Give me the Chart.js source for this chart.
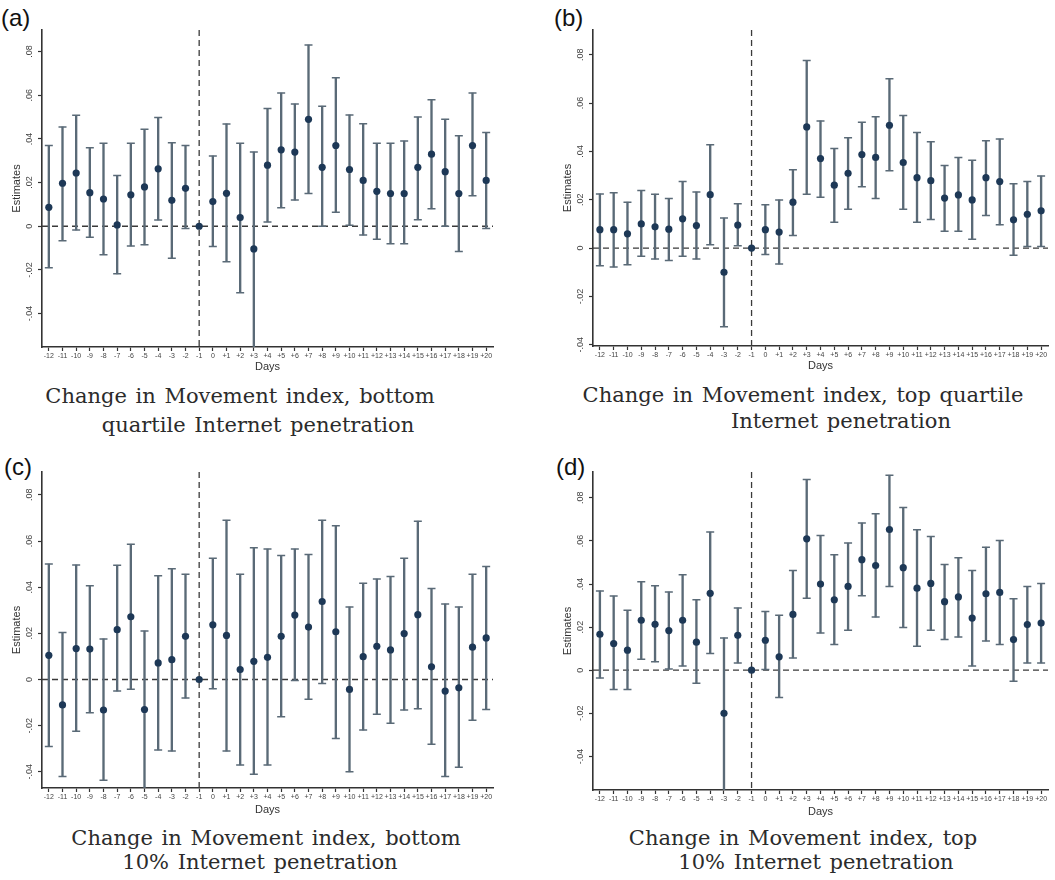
<!DOCTYPE html>
<html>
<head>
<meta charset="utf-8">
<script src="https://cdn.jsdelivr.net/npm/chart.js@4.4.0/dist/chart.umd.min.js"></script>
<style>
  body { margin: 0; background: #fff; width: 1055px; height: 880px; position: relative; overflow: hidden; font-family: "Liberation Sans", Arial, sans-serif; }
  .panel { position: absolute; }
  .tag { position: absolute; font-size: 24px; line-height: 24px; color: #111; }
  .cap { position: absolute; font-family: "DejaVu Serif", serif; font-size: 21px; line-height: 22px; word-spacing: 2px; color: #2b2b2b; white-space: nowrap; transform: translateX(-50%); }
</style>
</head>
<body>

<div class="tag" style="left:1px;top:6px">(a)</div>
<div class="tag" style="left:554px;top:6px">(b)</div>
<div class="tag" style="left:4px;top:455px">(c)</div>
<div class="tag" style="left:556px;top:455px">(d)</div>

<div class="panel" style="left:0;top:0;width:500px;height:380px"><canvas id="chartA"></canvas></div>
<div class="panel" style="left:551px;top:0;width:504px;height:380px"><canvas id="chartB"></canvas></div>
<div class="panel" style="left:0;top:442px;width:500px;height:380px"><canvas id="chartC"></canvas></div>
<div class="panel" style="left:551px;top:442px;width:504px;height:380px"><canvas id="chartD"></canvas></div>

<div class="cap" style="left:240px;top:385px">Change in Movement index, bottom</div>
<div class="cap" style="left:258px;top:414px">quartile Internet penetration</div>
<div class="cap" style="left:803px;top:384px">Change in Movement index, top quartile</div>
<div class="cap" style="left:841px;top:410px">Internet penetration</div>
<div class="cap" style="left:266px;top:827px">Change in Movement index, bottom</div>
<div class="cap" style="left:260px;top:851px">10% Internet penetration</div>
<div class="cap" style="left:803px;top:827px">Change in Movement index, top</div>
<div class="cap" style="left:816px;top:851px">10% Internet penetration</div>

<script>
const days = ["-12","-11","-10","-9","-8","-7","-6","-5","-4","-3","-2","-1","0",
  "+1","+2","+3","+4","+5","+6","+7","+8","+9","+10","+11","+12","+13","+14","+15","+16","+17","+18","+19","+20"];
const yTicks = [-0.04, -0.02, 0, 0.02, 0.04, 0.06, 0.08];
const yTickLabels = ["-.04", "-.02", "0", ".02", ".04", ".06", ".08"];

// (a) bottom quartile
const estA = [.0087,.0197,.0244,.0154,.0125,.0006,.0144,.018,.0263,.0119,.0174,0,.0113,.0151,.004,-.0104,.028,.035,.034,.049,.027,.037,.026,.021,.016,.015,.015,.027,.033,.025,.015,.037,.021];
const hiA = [.037,.0455,.0508,.036,.038,.0232,.038,.0444,.0498,.0383,.037,null,.0322,.0469,.038,.034,.054,.061,.056,.083,.055,.068,.051,.047,.038,.038,.039,.050,.058,.049,.0415,.061,.043];
const loA = [-.019,-.0066,-.0017,-.005,-.013,-.0218,-.009,-.0085,.0029,-.0147,-.001,null,-.0093,-.0162,-.0304,-.07,.002,.0085,.012,.015,0,.0064,.0005,-.004,-.006,-.008,-.008,.003,.008,0,-.0115,.014,-.001];

// (b) top quartile
const estB = [.0076,.0076,.0059,.010,.0088,.0078,.0121,.0093,.0221,-.010,.0095,0,.0076,.0066,.019,.0501,.037,.026,.0309,.0387,.0375,.0508,.0354,.0291,.0279,.0207,.022,.0199,.0291,.0275,.0117,.014,.0154];
const hiB = [.0224,.0229,.019,.0238,.0223,.0205,.0275,.0232,.0427,.0124,.0183,null,.0179,.0199,.0324,.0776,.0526,.0412,.0456,.052,.0543,.070,.0548,.0478,.044,.0342,.0375,.0363,.0444,.0451,.0266,.0275,.0298];
const loB = [-.0073,-.0078,-.0069,-.0034,-.0045,-.0051,-.0034,-.0045,.0014,-.0325,.001,null,-.0027,-.0066,.0052,.0223,.021,.0107,.0161,.0254,.0205,.032,.0161,.0107,.0118,.007,.007,.0037,.0135,.0096,-.003,.0007,.0007];

// (c) bottom 10%
const estC = [.0105,-.011,.0134,.0132,-.0132,.0216,.0272,-.013,.0072,.0086,.0187,0,.0237,.0191,.0043,.0079,.0096,.0187,.0279,.0227,.0338,.0207,-.0043,.0099,.0144,.0128,.0199,.0281,.0055,-.005,-.0036,.014,.018];
const hiC = [.050,.0204,.0496,.0406,.0176,.0495,.0586,.021,.0449,.048,.0456,null,.0525,.069,.0456,.0571,.0565,.0537,.0565,.0542,.069,.0666,.0314,.0417,.0435,.0446,.0525,.0686,.0394,.0327,.0314,.0456,.049];
const loC = [-.029,-.042,-.0224,-.0144,-.0436,-.005,-.0042,-.055,-.0305,-.031,-.008,null,-.004,-.031,-.037,-.041,-.037,-.0161,-.0004,-.0086,-.0017,-.0256,-.040,-.0219,-.0151,-.019,-.0132,-.0127,-.028,-.042,-.038,-.0177,-.013];

// (d) top 10%
const estD = [.0167,.0124,.0093,.0232,.0213,.0184,.0232,.013,.0357,-.020,.0162,0,.0139,.0062,.0259,.061,.04,.0327,.0389,.0513,.0486,.0653,.0476,.0381,.0403,.0318,.034,.0242,.0355,.0361,.0142,.0212,.0219];
const hiD = [.0368,.0344,.0278,.0411,.0392,.0363,.0443,.0327,.0641,.015,.0289,null,.0272,.0255,.0463,.0885,.0625,.0536,.059,.0683,.0726,.0905,.0755,.0652,.0621,.0491,.0522,.0463,.0571,.0602,.0332,.0389,.0402];
const loD = [-.0036,-.009,-.009,.0051,.0039,.0006,.002,-.006,.0077,-.065,.0034,null,.0003,-.0127,.0057,.0334,.0173,.0119,.0185,.0346,.0247,.0389,.0198,.0111,.0185,.0142,.0154,.002,.0136,.0119,-.0051,.0034,.0034];

const barColor = "#5a6a77";
const dotColor = "#1d3856";
const axisColor = "#333";
const sans = "'Liberation Sans', Arial, sans-serif";

// dashed reference lines at 0 and at day -1
const refLines = {
  id: "refLines",
  beforeDatasetsDraw(chart) {
    const { ctx, chartArea, scales } = chart;
    const y0 = scales.y.getPixelForValue(0);
    const xr = scales.x.getPixelForValue(days.indexOf("-1"));
    ctx.save();
    ctx.strokeStyle = "#3a3a3a";
    ctx.lineWidth = 1.3;
    ctx.setLineDash([6, 4]);
    ctx.beginPath();
    ctx.moveTo(chartArea.left, y0);
    ctx.lineTo(chartArea.right, y0);
    ctx.stroke();
    ctx.beginPath();
    ctx.moveTo(xr, chartArea.top);
    ctx.lineTo(xr, chartArea.bottom);
    ctx.stroke();
    ctx.restore();
  }
};

function drawPanel(id, est, lo, hi, yMin, yMax, xAxisHeight, daysPad, padRight) {
  const ctx = document.getElementById(id).getContext("2d");
  const ranges = lo.map((l, i) => (l === null ? null : [l, hi[i]]));
  new Chart(ctx, {
    type: "bar",
    data: {
      labels: days,
      datasets: [
        { type: "line", data: est, showLine: false, pointRadius: 3.6, pointBackgroundColor: dotColor, pointBorderWidth: 0, order: 0 },
        { type: "line", data: hi, showLine: false, pointStyle: "line", pointRadius: 4, pointBorderColor: barColor, pointBorderWidth: 1.5, order: 1 },
        { type: "line", data: lo, showLine: false, pointStyle: "line", pointRadius: 4, pointBorderColor: barColor, pointBorderWidth: 1.5, order: 1 },
        { type: "bar", data: ranges, backgroundColor: barColor, barThickness: 1.7, borderWidth: 0, order: 2 }
      ]
    },
    options: {
      responsive: true,
      maintainAspectRatio: false,
      animation: false,
      layout: { padding: { top: 30, right: padRight, left: 0, bottom: 0 } },
      scales: {
        x: {
          offset: true,
          afterFit: s => { s.height = xAxisHeight; },
          border: { color: axisColor, width: 1.6 },
          grid: { offset: false, drawOnChartArea: false, drawTicks: true, tickLength: 4, tickColor: axisColor, tickWidth: 1.2 },
          ticks: { autoSkip: false, maxRotation: 0, minRotation: 0, padding: 1, color: "#444", font: { family: sans, size: 7 } },
          title: { display: true, text: "Days", color: "#333", font: { family: sans, size: 11 }, padding: { top: 0, bottom: daysPad } }
        },
        y: {
          min: yMin,
          max: yMax,
          afterBuildTicks: s => { s.ticks = yTicks.map(v => ({ value: v })); },
          afterFit: s => { s.width = 42; },
          border: { color: axisColor, width: 1.6 },
          grid: { drawOnChartArea: false, drawTicks: true, tickLength: 4, tickColor: axisColor, tickWidth: 1.2 },
          ticks: { minRotation: 90, maxRotation: 90, crossAlign: "center", padding: 1, color: "#444",
                   font: { family: sans, size: 9 }, callback: (v, i) => yTickLabels[i] },
          title: { display: true, text: "Estimates", color: "#333", font: { family: sans, size: 11 }, padding: { top: 10, bottom: 0 } }
        }
      },
      plugins: { legend: { display: false }, tooltip: { enabled: false } }
    },
    plugins: [refLines]
  });
}

drawPanel("chartA", estA, loA, hiA, -0.0553, 0.0899, 33, 6, 7);
drawPanel("chartB", estB, loB, hiB, -0.0405, 0.0902, 34, 7, 7);
drawPanel("chartC", estC, loC, hiC, -0.047, 0.0899, 34, 5, 7);
drawPanel("chartD", estD, loD, hiD, -0.0556, 0.092, 32, 3, 7);
</script>
</body>
</html>
